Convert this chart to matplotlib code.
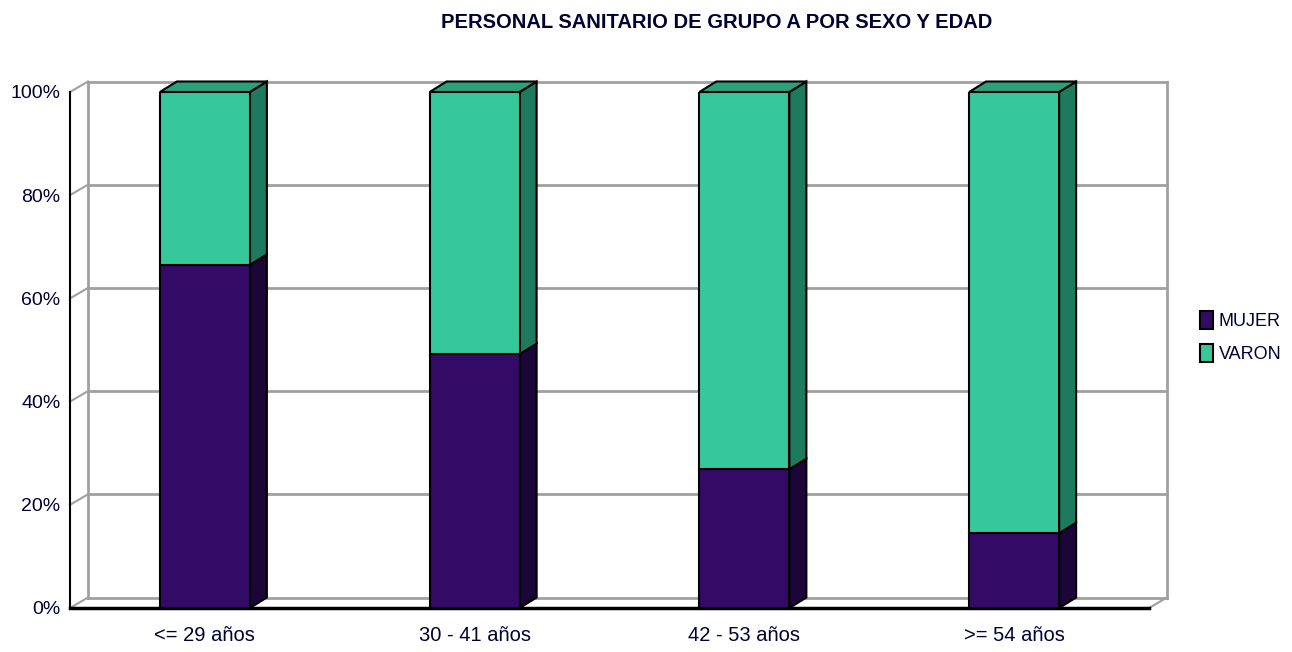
import matplotlib
matplotlib.use("Agg")
import matplotlib.pyplot as plt
from matplotlib.patches import Polygon

# ---- data ----
categories = ["<= 29 años", "30 - 41 años", "42 - 53 años", ">= 54 años"]
mujer = [66.5, 49.2, 26.9, 14.5]
varon = [33.5, 50.8, 73.1, 85.5]
series_names = ["MUJER", "VARON"]
yticks = [0, 20, 40, 60, 80, 100]
ytick_labels = ["0%", "20%", "40%", "60%", "80%", "100%"]
title = "PERSONAL SANITARIO DE GRUPO A POR SEXO Y EDAD"

# ---- style ----
plt.rcParams['font.family'] = ['Liberation Sans', 'DejaVu Sans']
txt = "#000033"
front_cols = ["#330a66", "#36c89a"]
side_cols = ["#1c0638", "#1e7a5e"]
top_cols = ["#1c0638", "#2aa07b"]
grid_col = "#a0a0a0"

W, H = 1292, 652
fig = plt.figure(figsize=(W / 100, H / 100), dpi=100)
left_px, right_px, top_px, bot_px = 70, 1149, 92, 608
ax = fig.add_axes([left_px / W, (H - bot_px) / H, (right_px - left_px) / W, (bot_px - top_px) / H])
n = len(categories)
ax.set_xlim(-0.5, n - 0.5)
ax.set_ylim(0, 100)
for s in ax.spines.values():
    s.set_visible(False)

px_x = n / (right_px - left_px)       # data units per px in x
px_y = 100 / (bot_px - top_px)        # data units per px in y
dx = 18 * px_x
dy = 10.5 * px_y
x0, x1 = -0.5, n - 0.5

# back wall grid
for v in yticks:
    ax.plot([x0 + dx, x1 + dx], [v + dy, v + dy], color=grid_col, lw=2, zorder=1, clip_on=False)
    ax.plot([x0, x0 + dx], [v, v + dy], color=grid_col, lw=1.5, zorder=1, clip_on=False)
ax.plot([x0 + dx, x0 + dx], [dy, 100 + dy], color=grid_col, lw=2, zorder=1, clip_on=False)
ax.plot([x1 + dx, x1 + dx], [dy, 100 + dy], color=grid_col, lw=2, zorder=1, clip_on=False)
ax.plot([x1, x1 + dx], [0, dy], color=grid_col, lw=1.5, zorder=1, clip_on=False)
# front axes lines
ax.plot([x0, x0], [0, 100], color="black", lw=1.5, zorder=2, clip_on=False)
ax.plot([x0, x1], [0, 0], color="black", lw=2.5, zorder=2, clip_on=False)

bw = 90 * px_x
bdx = 17 * px_x
bdy = 10.5 * px_y
series = [mujer, varon]
for i in range(n):
    bottom = 0
    for k, vals in enumerate(series):
        v = vals[i]
        xl, xr = i - bw / 2, i + bw / 2
        ax.bar(i, v, bw, bottom=bottom, color=front_cols[k], edgecolor="black", lw=1.5,
               zorder=5, label=series_names[k] if i == 0 else None)
        side = Polygon([[xr, bottom], [xr + bdx, bottom + bdy], [xr + bdx, bottom + v + bdy], [xr, bottom + v]],
                       closed=True, facecolor=side_cols[k], edgecolor="black", lw=1.5, zorder=4, clip_on=False)
        ax.add_patch(side)
        if k == len(series) - 1:
            top = Polygon([[xl, bottom + v], [xl + bdx, bottom + v + bdy], [xr + bdx, bottom + v + bdy], [xr, bottom + v]],
                          closed=True, facecolor=top_cols[k], edgecolor="black", lw=1.5, zorder=4, clip_on=False)
            ax.add_patch(top)
        bottom += v

ax.set_yticks(yticks)
ax.set_yticklabels(ytick_labels, fontsize=14, color=txt)
ax.set_xticks(range(n))
ax.set_xticklabels(categories, fontsize=14.5, color=txt)
ax.tick_params(axis="y", length=0, pad=7)
ax.tick_params(axis="x", length=0, pad=13)

fig.text(717 / W, 1 - 22 / H, title, ha="center", va="center", fontsize=14.5, fontweight="bold", color=txt)

leg = fig.legend(loc="center left", bbox_to_anchor=(1200 / W, 1 - 337 / H), frameon=False,
                 fontsize=13, handlelength=0.7, handleheight=1.15, handletextpad=0.35, labelspacing=0.75,
                 borderpad=0, borderaxespad=0, labelcolor=txt)
for h in leg.legend_handles:
    h.set_edgecolor("black")
    h.set_linewidth(1.5)

fig.savefig("out.png", dpi=100)
